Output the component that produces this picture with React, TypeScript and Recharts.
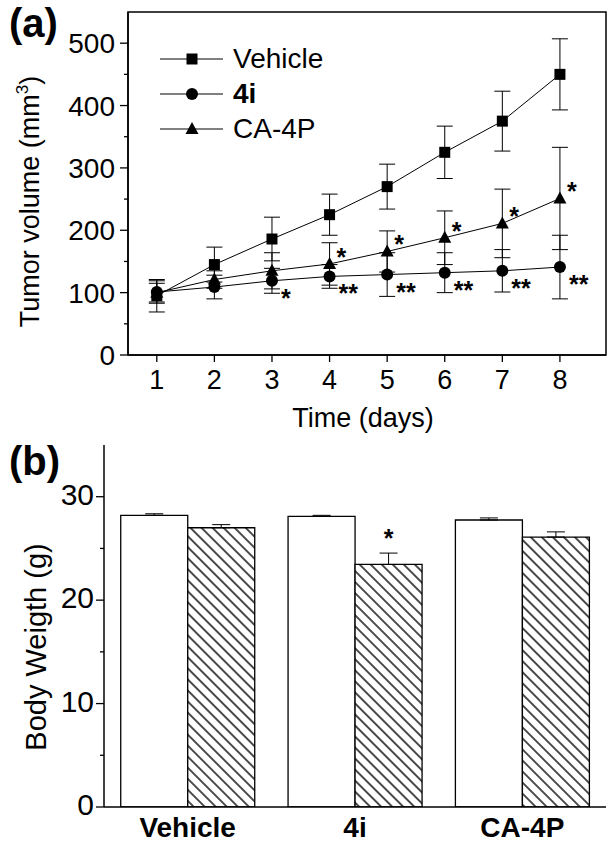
import React from 'react';
import {
  LineChart,
  Line,
  BarChart,
  Bar,
  XAxis,
  YAxis,
  ErrorBar,
  LabelList,
  ReferenceArea,
  Legend,
} from 'recharts';

const FONT = '"Liberation Sans", Arial, Helvetica, sans-serif';

// (a) tumor volume vs time
const days = [1, 2, 3, 4, 5, 6, 7, 8];
const vehicle = [95, 145, 186, 225, 270, 325, 375, 450];
const vehicleErr = [26, 28, 35, 33, 36, 42, 48, 57];
const cmp4i = [101, 109, 119, 126, 129, 132, 135, 141];
const cmp4iErr = [18, 19, 20, 19, 35, 32, 34, 51];
const ca4p = [100, 121, 135, 146, 166, 188, 211, 251];
const ca4pErr = [15, 14, 29, 34, 33, 43, 55, 82];
const sig4i = ['', '', '*', '**', '**', '**', '**', '**'];
const sigCa4p = ['', '', '', '*', '*', '*', '*', '*'];
const volumeTicks = [0, 50, 100, 150, 200, 250, 300, 350, 400, 450, 500];

// (b) body weight
const groups = ['Vehicle', '4i', 'CA-4P'];
const weightBefore = [28.2, 28.1, 27.75];
const weightBeforeErr = [0.15, 0.1, 0.2];
const weightAfter = [27.0, 23.45, 26.1];
const weightAfterErr = [0.3, 1.1, 0.5];
const sigAfter = ['', '*', ''];
const weightTicks = [0, 5, 10, 15, 20, 25, 30];

const volumeData = days.map((d, i) => ({
  day: d,
  vehicle: vehicle[i],
  vehicleErr: vehicleErr[i],
  cmp4i: cmp4i[i],
  cmp4iErr: cmp4iErr[i],
  ca4p: ca4p[i],
  ca4pErr: ca4pErr[i],
  sig4i: sig4i[i],
  sigCa4p: sigCa4p[i],
}));

const weightData = groups.map((g, i) => ({
  group: g,
  before: weightBefore[i],
  beforeErr: [0, weightBeforeErr[i]],
  after: weightAfter[i],
  afterErr: [0, weightAfterErr[i]],
  sig: sigAfter[i],
}));

const legendItems = [
  { name: 'Vehicle', shape: 'square', bold: false },
  { name: '4i', shape: 'circle', bold: true },
  { name: 'CA-4P', shape: 'triangle', bold: false },
];

function marker(shape: string, cx: number, cy: number, key?: string | number) {
  if (shape === 'square') {
    return <rect key={key} x={cx - 5.5} y={cy - 5.5} width={11} height={11} fill="#000" />;
  }
  if (shape === 'circle') {
    return <circle key={key} cx={cx} cy={cy} r={6} fill="#000" />;
  }
  return (
    <path
      key={key}
      d={`M${cx},${cy - 7} L${cx + 6.5},${cy + 5} L${cx - 6.5},${cy + 5} Z`}
      fill="#000"
    />
  );
}

const dotOf = (shape: string) => (p: any) => {
  if (p.cx == null || p.cy == null) return <g key={`e${p.index}`} />;
  return marker(shape, p.cx, p.cy, `${shape}-${p.index}`);
};

const sigLabel = (dx: number, dy: number) => (p: any) => {
  if (!p.value) return null;
  return (
    <text x={p.x + dx} y={p.y + dy} fontSize={25} fontWeight="bold" fontFamily={FONT} fill="#000" textAnchor="start">
      {p.value}
    </text>
  );
};

function VolumeYTick(props: any) {
  const { x, y, payload } = props;
  const major = payload.value % 100 === 0;
  return (
    <g>
      <line x1={x} x2={x - (major ? 8 : 4)} y1={y} y2={y} stroke="#000" strokeWidth={1.3} />
      {major && (
        <text x={x - 13} y={y + 10} textAnchor="end" fontSize={28} fontFamily={FONT} fill="#000">
          {payload.value}
        </text>
      )}
    </g>
  );
}

function DayTick(props: any) {
  const { x, y, payload } = props;
  return (
    <g>
      <line x1={x} x2={x} y1={y} y2={y + 7} stroke="#000" strokeWidth={1.3} />
      <text x={x} y={y + 34} textAnchor="middle" fontSize={27} fontFamily={FONT} fill="#000">
        {payload.value}
      </text>
    </g>
  );
}

function WeightYTick(props: any) {
  const { x, y, payload } = props;
  const major = payload.value % 10 === 0;
  return (
    <g>
      <line x1={x} x2={x - (major ? 8 : 4)} y1={y} y2={y} stroke="#000" strokeWidth={1.3} />
      {major && (
        <text x={x - 10} y={y + 8} textAnchor="end" fontSize={30} fontFamily={FONT} fill="#000">
          {payload.value}
        </text>
      )}
    </g>
  );
}

function GroupTick(props: any) {
  const { x, y, payload } = props;
  return (
    <text x={x} y={y + 30} textAnchor="middle" fontSize={28} fontWeight="bold" fontFamily={FONT} fill="#000">
      {payload.value}
    </text>
  );
}

function VolumeLegend() {
  return (
    <div style={{ fontFamily: FONT }}>
      {legendItems.map((item) => (
        <div key={item.name} style={{ display: 'flex', alignItems: 'center', height: 35 }}>
          <svg width={64} height={16}>
            <line x1={0} x2={63} y1={8} y2={8} stroke="#000" strokeWidth={1} />
            {marker(item.shape, 32, 8)}
          </svg>
          <span
            style={{
              marginLeft: 9,
              fontSize: 28,
              lineHeight: 1,
              fontWeight: item.bold ? 'bold' : 'normal',
              color: '#000',
            }}
          >
            {item.name}
          </span>
        </div>
      ))}
    </div>
  );
}

const panelLabel: React.CSSProperties = {
  position: 'absolute',
  left: 9,
  fontFamily: FONT,
  fontWeight: 'bold',
  fontSize: 40,
  lineHeight: '40px',
  color: '#000',
};

export default function App() {
  return (
    <div style={{ position: 'absolute', left: 0, top: 0, width: 614, height: 850, background: '#fff' }}>
      <LineChart
        width={614}
        height={440}
        data={volumeData}
        margin={{ top: 12, right: 8, left: 0, bottom: 0 }}
        style={{ position: 'absolute', left: 0, top: 0 }}
      >
        <XAxis
          dataKey="day"
          type="number"
          domain={[0.5, 8.8]}
          ticks={days}
          allowDataOverflow
          height={85}
          tickSize={0}
          tickMargin={0}
          tick={<DayTick />}
          tickLine={false}
          axisLine={{ stroke: '#000', strokeWidth: 1.5 }}
          label={{
            content: (p: any) => {
              const vb = p.viewBox ?? { x: 128, y: 355, width: 478, height: 85 };
              return (
                <text x={vb.x + vb.width / 2 - 4} y={vb.y + 72} textAnchor="middle" fontSize={27} fontFamily={FONT} fill="#000">
                  Time (days)
                </text>
              );
            },
          }}
        />
        <YAxis
          type="number"
          domain={[0, 550]}
          ticks={volumeTicks}
          allowDataOverflow
          width={128}
          tickSize={0}
          tickMargin={0}
          tick={<VolumeYTick />}
          tickLine={false}
          axisLine={{ stroke: '#000', strokeWidth: 1.5 }}
          interval={0}
          label={{
            content: (p: any) => {
              const vb = p.viewBox ?? { x: 0, y: 12, width: 128, height: 343 };
              const cx = 39;
              const cy = vb.y + vb.height / 2 + 18;
              return (
                <text x={cx} y={cy} transform={`rotate(-90, ${cx}, ${cy})`} textAnchor="middle" fontSize={27} fontFamily={FONT} fill="#000">
                  Tumor volume (mm
                  <tspan dy={-11} fontSize={17}>3</tspan>
                  <tspan dy={11}>)</tspan>
                </text>
              );
            },
          }}
        />
        <ReferenceArea x1={0.5} x2={8.8} y1={0} y2={550} fill="none" stroke="#000" strokeWidth={1.5} ifOverflow="visible" />
        <Legend
          layout="vertical"
          align="center"
          verticalAlign="middle"
          content={() => <VolumeLegend />}
          wrapperStyle={{ position: 'absolute', top: 41, left: 160, width: 220 }}
        />
        <Line
          type="linear"
          dataKey="vehicle"
          stroke="#000"
          strokeWidth={1}
          dot={dotOf('square')}
          activeDot={false}
          isAnimationActive={false}
        >
          <ErrorBar dataKey="vehicleErr" direction="y" width={8} stroke="#000" strokeWidth={1} />
        </Line>
        <Line
          type="linear"
          dataKey="ca4p"
          stroke="#000"
          strokeWidth={1}
          dot={dotOf('triangle')}
          activeDot={false}
          isAnimationActive={false}
        >
          <ErrorBar dataKey="ca4pErr" direction="y" width={8} stroke="#000" strokeWidth={1} />
          <LabelList dataKey="sigCa4p" content={sigLabel(7, 2)} />
        </Line>
        <Line
          type="linear"
          dataKey="cmp4i"
          stroke="#000"
          strokeWidth={1}
          dot={dotOf('circle')}
          activeDot={false}
          isAnimationActive={false}
        >
          <ErrorBar dataKey="cmp4iErr" direction="y" width={8} stroke="#000" strokeWidth={1} />
          <LabelList dataKey="sig4i" content={sigLabel(9, 26)} />
        </Line>
      </LineChart>

      <BarChart
        width={614}
        height={430}
        data={weightData}
        margin={{ top: 25, right: 8, left: 0, bottom: 0 }}
        barCategoryGap="10%"
        barGap={0}
        style={{ position: 'absolute', left: 0, top: 420 }}
      >
        <defs>
          <pattern id="hatch" patternUnits="userSpaceOnUse" width={7.8} height={10} patternTransform="rotate(-45)">
            <rect x={0} y={0} width={7.8} height={10} fill="#fff" />
            <line x1={3.9} y1={-2} x2={3.9} y2={12} stroke="#000" strokeWidth={1.4} />
          </pattern>
        </defs>
        <XAxis
          dataKey="group"
          height={43}
          tickLine={false}
          tickSize={0}
          tickMargin={0}
          tick={<GroupTick />}
          axisLine={{ stroke: '#000', strokeWidth: 1.5 }}
        />
        <YAxis
          type="number"
          domain={[0, 35]}
          ticks={weightTicks}
          allowDataOverflow
          width={104}
          tickSize={0}
          tickMargin={0}
          tick={<WeightYTick />}
          tickLine={false}
          interval={0}
          axisLine={{ stroke: '#000', strokeWidth: 1.5 }}
          label={{
            content: (p: any) => {
              const vb = p.viewBox ?? { x: 0, y: 25, width: 104, height: 362 };
              const cx = 46;
              const cy = vb.y + vb.height / 2 + 21;
              return (
                <text x={cx} y={cy} transform={`rotate(-90, ${cx}, ${cy})`} textAnchor="middle" fontSize={29} fontFamily={FONT} fill="#000">
                  Body Weigth (g)
                </text>
              );
            },
          }}
        />
        <Bar dataKey="before" fill="#fff" stroke="#000" strokeWidth={1.3} isAnimationActive={false}>
          <ErrorBar dataKey="beforeErr" direction="y" width={9} stroke="#000" strokeWidth={1} />
        </Bar>
        <Bar dataKey="after" fill="url(#hatch)" stroke="#000" strokeWidth={1.3} isAnimationActive={false}>
          <ErrorBar dataKey="afterErr" direction="y" width={9} stroke="#000" strokeWidth={1} />
          <LabelList
            dataKey="sig"
            content={(p: any) =>
              p.value ? (
                <text x={p.x + p.width / 2} y={p.y - 17} textAnchor="middle" fontSize={25} fontWeight="bold" fontFamily={FONT} fill="#000">
                  {p.value}
                </text>
              ) : null
            }
          />
        </Bar>
      </BarChart>

      <div style={{ ...panelLabel, top: 3 }}>(a)</div>
      <div style={{ ...panelLabel, top: 441 }}>(b)</div>
    </div>
  );
}
